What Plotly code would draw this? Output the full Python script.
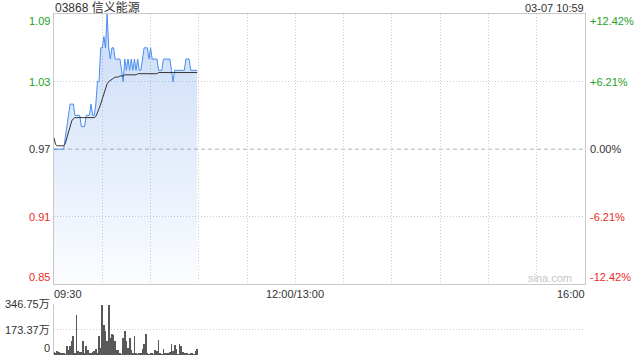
import plotly.graph_objects as go

# ---- data ----
minutes = list(range(90))  # minutes since 09:30, up to 10:59

price = ([0.97] * 7 +
         [0.98, 0.99, 1.00, 1.01, 1.01, 1.01] +
         [1.00] * 4 + [0.99] * 3 + [1.00] * 3 +
         [1.01, 1.00, 1.00, 1.01] +
         [1.03, 1.03, 1.06, 1.06, 1.07, 1.06, 1.09, 1.06, 1.05, 1.06, 1.06] +
         [1.05, 1.05, 1.05, 1.05, 1.04, 1.03] +
         [1.05, 1.04, 1.05, 1.04, 1.05, 1.04, 1.05, 1.04, 1.05, 1.04, 1.04, 1.05] +
         [1.06, 1.06, 1.06, 1.05, 1.06, 1.05, 1.05, 1.05, 1.05] +
         [1.04, 1.04, 1.04] + [1.05] * 5 +
         [1.04, 1.03] + [1.04] * 7 + [1.05] * 3 + [1.04] * 5)

avg_price = ([0.980, 0.974, 0.973, 0.973, 0.973, 0.973, 0.973,
              0.975, 0.980, 0.986, 0.991, 0.995, 0.997] +
             [0.998] * 13 +
             [0.999, 1.002, 1.006, 1.010, 1.015, 1.020, 1.024, 1.028, 1.030,
              1.031, 1.032, 1.033, 1.034, 1.034, 1.034, 1.035, 1.035, 1.035] +
             [1.036] * 8 + [1.037] * 13 + [1.038] * 25)

volume = [16, 8, 27, 20, 11, 7, 7, 4, 57, 34, 62, 91, 130, 5, 274, 23, 16, 20, 91, 11,
          57, 30, 5, 11, 16, 23, 39, 5, 130, 46, 342, 205, 160, 96, 342, 114, 144, 137, 91, 30,
          34, 7, 4, 114, 164, 96, 46, 114, 34, 11, 125, 7, 4, 7, 11, 39, 75, 144, 7, 4,
          7, 7, 4, 30, 23, 103, 7, 4, 39, 7, 7, 7, 16, 75, 23, 68, 39, 4, 75, 57,
          16, 11, 7, 5, 4, 7, 7, 4, 23, 39]

price_ticks = [1.09, 1.03, 0.97, 0.91, 0.85]
price_labels = ["1.09", "1.03", "0.97", "0.91", "0.85"]
pct_labels = ["+12.42%", "+6.21%", "0.00%", "-6.21%", "-12.42%"]
vol_ticks = [346.75, 173.37, 0]
vol_labels = ["346.75万", "173.37万", "0"]
time_ticks = [0, 150, 330]
time_labels = ["09:30", "12:00/13:00", "16:00"]
grid_minutes = list(range(30, 330, 30))
prev_close = 0.97
title_text = "03868 信义能源"
stamp_text = "03-07 10:59"

assert len(price) == 90 and len(avg_price) == 90 and len(volume) == 90

# ---- styles ----
GREEN = "#1ea01e"
RED = "#ec2b25"
DARK = "#333333"
GRID = "#cdcdcd"
BORDER = "#c8c8c8"
FONT = "Liberation Sans, Arial, Noto Sans CJK SC, sans-serif"
W, H = 640, 360
X0, X1 = 54 / W, 585 / W
PY0, PY1 = 1 - 284.3 / H, 1 - 14 / H
VY0, VY1 = 1 - 355 / H, 1 - 304.3 / H

fig = go.Figure()
fig.add_trace(go.Scatter(
    x=minutes, y=price, mode="lines",
    line=dict(color="#4a8cf0", width=1),
    fill="tozeroy",
    fillgradient=dict(type="vertical",
                      colorscale=[[0, "rgba(60,125,230,0.02)"], [1, "rgba(60,125,230,0.27)"]],
                      start=0.85, stop=1.09),
    xaxis="x", yaxis="y", hoverinfo="skip"))
fig.add_trace(go.Scatter(
    x=minutes, y=avg_price, mode="lines",
    line=dict(color="#333333", width=1),
    xaxis="x", yaxis="y", hoverinfo="skip"))
fig.add_trace(go.Bar(
    x=minutes, y=volume, width=0.5,
    marker=dict(color="#595959", line=dict(width=0)),
    xaxis="x2", yaxis="y2", hoverinfo="skip"))

grid_style = dict(showgrid=True, gridcolor=GRID, griddash="1px,2px", gridwidth=1,
                  zeroline=False, showticklabels=False, ticks="")

fig.update_layout(
    width=W, height=H, margin=dict(l=0, r=0, t=0, b=0),
    paper_bgcolor="white", plot_bgcolor="white", showlegend=False,
    font=dict(family=FONT, size=11, color=DARK),
    bargap=0,
    xaxis=dict(domain=[X0, X1], range=[0, 330], tickvals=grid_minutes,
               showline=True, mirror=True, linecolor=BORDER, linewidth=1,
               anchor="y", **grid_style),
    yaxis=dict(domain=[PY0, PY1], range=[0.85, 1.09], tickvals=[0.91, 1.03],
               showline=True, mirror=True, linecolor=BORDER, linewidth=1,
               anchor="x", **grid_style),
    xaxis2=dict(domain=[X0, X1], range=[0, 330], showgrid=False, zeroline=False,
                showticklabels=False, showline=False, ticks="", anchor="y2"),
    yaxis2=dict(domain=[VY0, VY1], range=[0, 346.75], tickvals=[173.37, 346.75],
                showline=True, linecolor=BORDER, linewidth=1, anchor="x2", **grid_style),
)

# previous-close dashed line
fig.add_shape(type="line", xref="x", yref="y", x0=0, x1=330, y0=prev_close, y1=prev_close,
              line=dict(color="#b4b4b4", width=1, dash="4px,3px"), layer="below")

ann = []
n = len(price_ticks)
for i, (v, lab, pct) in enumerate(zip(price_ticks, price_labels, pct_labels)):
    col = GREEN if v > prev_close else (RED if v < prev_close else DARK)
    shift = -7 if i == 0 else (7 if i == n - 1 else 0)
    ann.append(dict(x=52 / W, xref="paper", y=v, yref="y", text=lab, showarrow=False,
                    xanchor="right", yanchor="middle", yshift=shift,
                    font=dict(size=11, color=col)))
    ann.append(dict(x=588 / W, xref="paper", y=v, yref="y", text=pct, showarrow=False,
                    xanchor="left", yanchor="middle", yshift=shift,
                    font=dict(size=11, color=col)))
for v, lab in zip(vol_ticks, vol_labels):
    shift = 7 if v == 0 else 0
    ann.append(dict(x=52 / W, xref="paper", y=v, yref="y2", text=lab, showarrow=False,
                    xanchor="right", yanchor="middle", yshift=shift,
                    font=dict(size=11, color=DARK)))
anchors = ["left", "center", "right"]
for t, lab, a in zip(time_ticks, time_labels, anchors):
    ann.append(dict(x=t, xref="x", y=1 - 293.5 / H, yref="paper", text=lab, showarrow=False,
                    xanchor=a, yanchor="middle", xshift=(-2 if a == "left" else (2 if a == "right" else 0)),
                    font=dict(size=11, color=DARK)))
ann.append(dict(x=53 / W, xref="paper", y=1 - 7.5 / H, yref="paper", text=title_text,
                showarrow=False, xanchor="left", yanchor="middle",
                font=dict(size=12, color=DARK)))
ann.append(dict(x=586 / W, xref="paper", y=1 - 7.5 / H, yref="paper", text=stamp_text,
                showarrow=False, xanchor="right", yanchor="middle",
                font=dict(size=11, color=DARK)))
ann.append(dict(x=574 / W, xref="paper", y=1 - 278 / H, yref="paper", text="sina.com",
                showarrow=False, xanchor="right", yanchor="middle",
                font=dict(size=11, color="#c6c6c6")))
fig.update_layout(annotations=ann)

fig.write_html("out.html")
